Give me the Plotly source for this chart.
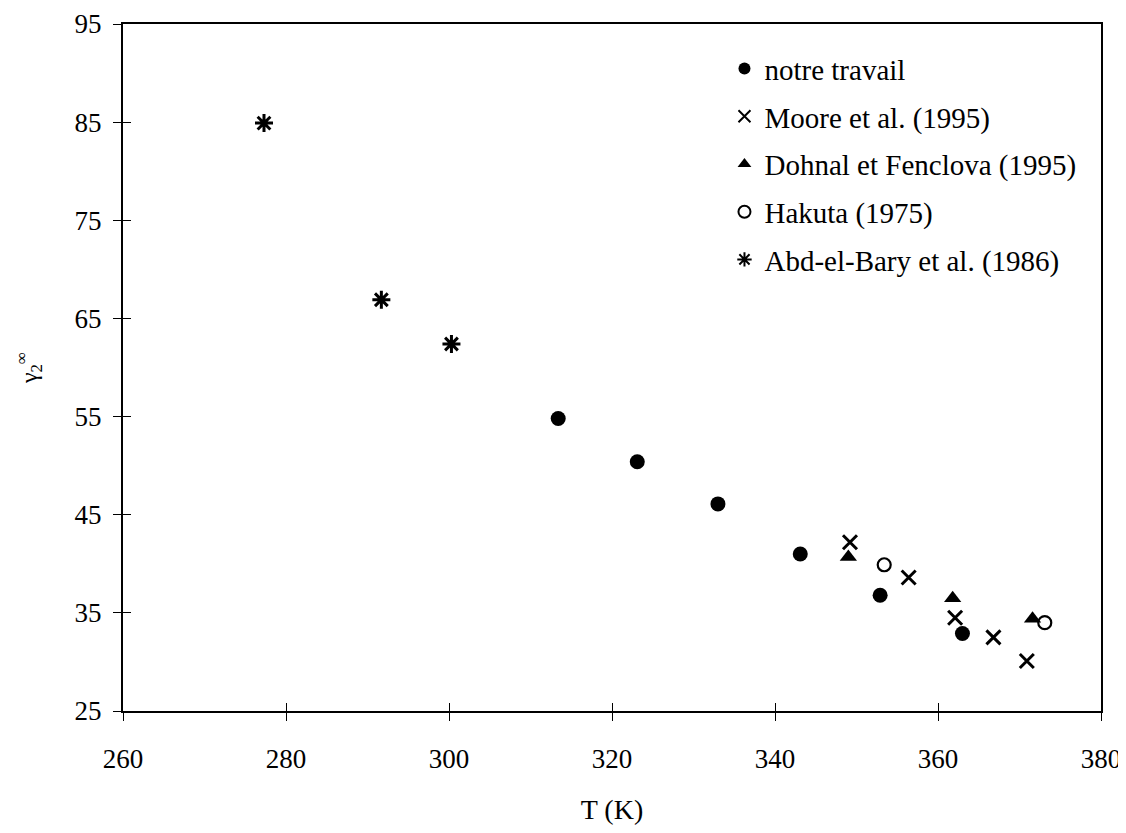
import plotly.graph_objects as go

# Data
notre_T = [313.4, 323.1, 333.0, 343.1, 352.9, 363.0]
notre_g = [54.8, 50.4, 46.1, 41.0, 36.8, 32.9]

moore_T = [349.2, 356.4, 362.1, 366.8, 370.9]
moore_g = [42.2, 38.6, 34.5, 32.5, 30.1]

dohnal_T = [349.0, 361.8, 371.6]
dohnal_g = [40.7, 36.5, 34.4]

hakuta_T = [353.4, 373.1]
hakuta_g = [39.9, 34.0]

abd_T = [277.3, 291.7, 300.3]
abd_g = [84.9, 66.9, 62.4]

x_ticks = [260, 280, 300, 320, 340, 360, 380]
y_ticks = [25, 35, 45, 55, 65, 75, 85, 95]

FONT = "Liberation Serif"

fig = go.Figure()
fig.add_trace(go.Scatter(x=notre_T, y=notre_g, mode="markers", name="notre travail",
                         legendgroup="a",
                         marker=dict(symbol="circle", size=15, color="black")))
fig.add_trace(go.Scatter(x=moore_T, y=moore_g, mode="markers", name="Moore et al. (1995)",
                         legendgroup="b",
                         marker=dict(symbol="x-thin-open", size=14, color="black",
                                     line=dict(width=3, color="black"))))
fig.add_trace(go.Scatter(x=dohnal_T, y=dohnal_g, mode="markers", name="Dohnal et Fenclova (1995)",
                         legendgroup="c",
                         marker=dict(symbol="triangle-up", size=15, color="black")))
fig.add_trace(go.Scatter(x=hakuta_T, y=hakuta_g, mode="markers", name="Hakuta (1975)",
                         legendgroup="d",
                         marker=dict(symbol="circle-open", size=13, color="black",
                                     line=dict(width=2.2, color="black"))))
fig.add_trace(go.Scatter(x=abd_T, y=abd_g, mode="markers", name="Abd-el-Bary et al. (1986)",
                         legendgroup="e",
                         marker=dict(symbol="asterisk-open", size=15, color="black",
                                     line=dict(width=3, color="black"))))

# overlay axes giving inside ticks (ticks crossing the axis lines)
fig.update_layout(
    xaxis2=dict(overlaying="x", anchor="y", range=[260, 380], tickvals=x_ticks,
                ticks="inside", ticklen=8, tickcolor="black", showticklabels=False,
                showgrid=False, zeroline=False, showline=False, side="bottom",
                automargin=False),
    yaxis2=dict(overlaying="y", anchor="x", range=[25, 95], tickvals=y_ticks,
                ticks="inside", ticklen=8, tickcolor="black", showticklabels=False,
                showgrid=False, zeroline=False, showline=False, side="left",
                automargin=False),
)
fig.add_trace(go.Scatter(x=[None], y=[None], xaxis="x2", yaxis="y2", showlegend=False,
                         hoverinfo="skip"))

fig.update_layout(
    width=1118, height=817,
    margin=dict(l=115, r=25, t=16, b=114, autoexpand=False),
    paper_bgcolor="white", plot_bgcolor="white",
    font=dict(family=FONT, size=27, color="black"),
    showlegend=True,
    legend=dict(x=0.615, y=0.972, xanchor="left", yanchor="top",
                bgcolor="rgba(0,0,0,0)", borderwidth=0,
                font=dict(family=FONT, size=29, color="black"),
                traceorder="grouped", tracegroupgap=7, itemsizing="constant"),
    xaxis=dict(range=[260, 380], tickvals=x_ticks, ticktext=[str(v) for v in x_ticks],
               showgrid=False, zeroline=False, automargin=False,
               showline=True, linecolor="black", linewidth=2, mirror=True,
               ticks="outside", ticklen=8, tickcolor="black", tickwidth=1,
               ticklabelstandoff=15,
               title=dict(text="T (K)", font=dict(family=FONT, size=28), standoff=38)),
    yaxis=dict(range=[25, 95], tickvals=y_ticks, ticktext=[str(v) for v in y_ticks],
               showgrid=False, zeroline=False, automargin=False,
               showline=True, linecolor="black", linewidth=2, mirror=True,
               ticks="outside", ticklen=8, tickcolor="black", tickwidth=1,
               ticklabelstandoff=6,
               title=dict(text="γ<sub>2</sub><sup>∞</sup>", font=dict(family=FONT, size=24),
                          standoff=30)),
)

fig.write_html("out.html")
